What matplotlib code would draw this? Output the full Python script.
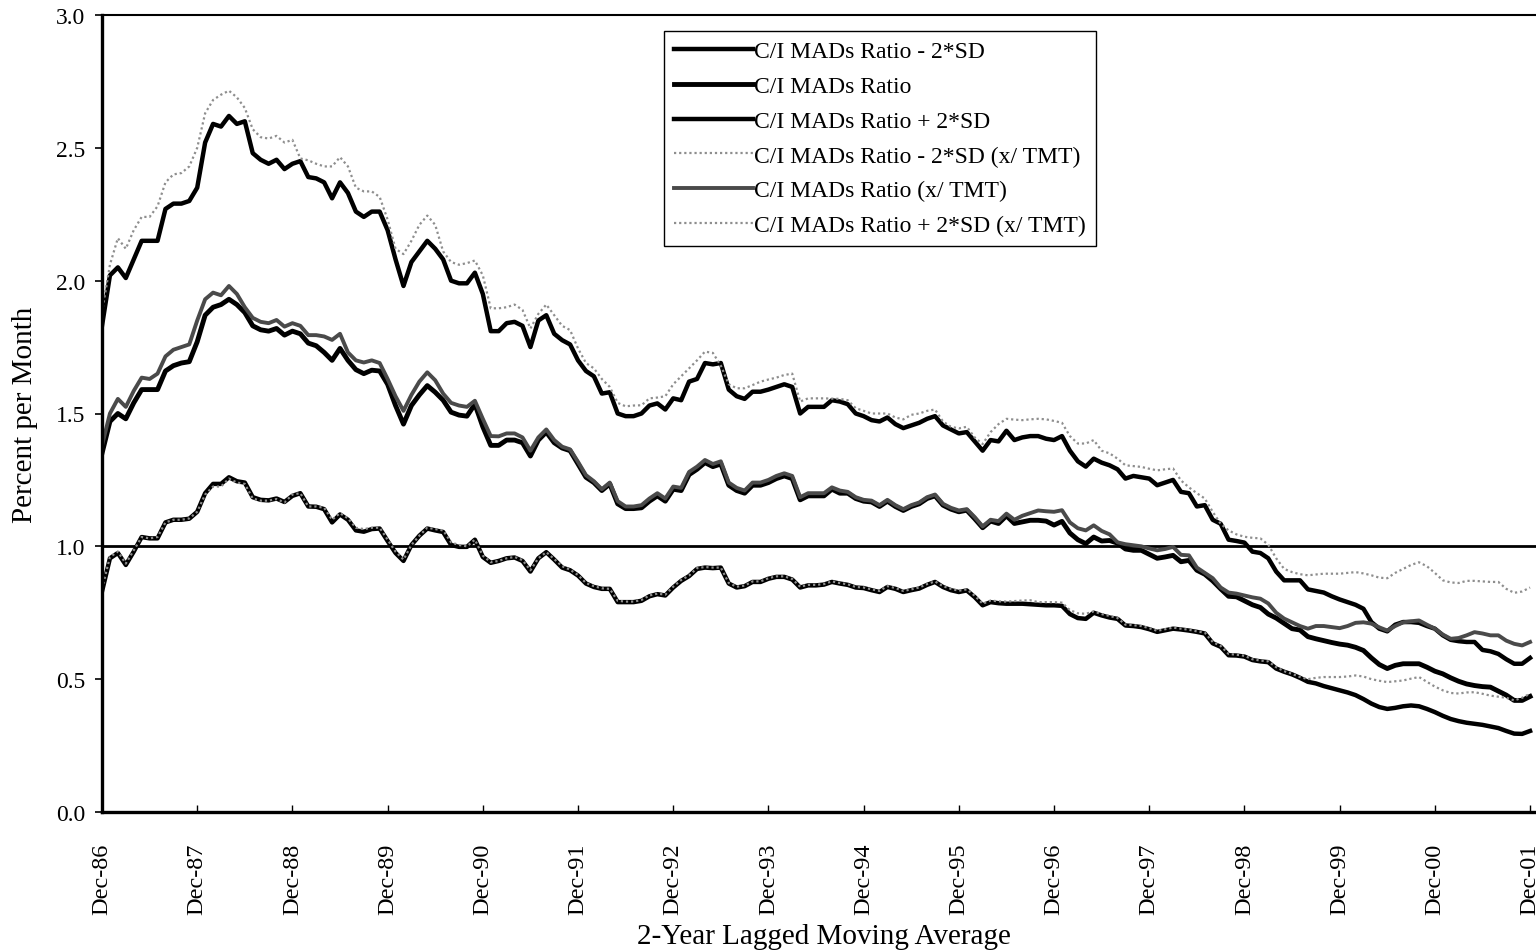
import matplotlib
matplotlib.use("Agg")
import matplotlib.pyplot as plt
import numpy as np

plt.rcParams['font.family'] = ['Liberation Serif', 'DejaVu Serif']

# month index 0 = Dec-86 ... 180 = Dec-01
tick_labels = ["Dec-86", "Dec-87", "Dec-88", "Dec-89", "Dec-90", "Dec-91", "Dec-92",
               "Dec-93", "Dec-94", "Dec-95", "Dec-96", "Dec-97", "Dec-98", "Dec-99",
               "Dec-00", "Dec-01"]

ratio_plus2sd = [
    1.83, 2.02, 2.05, 2.01, 2.08, 2.15, 2.15, 2.15, 2.27, 2.29, 2.29, 2.30,
    2.35, 2.52, 2.59, 2.58, 2.62, 2.59, 2.60, 2.48, 2.455, 2.44, 2.455, 2.42,
    2.44, 2.45, 2.39, 2.385, 2.37, 2.31, 2.37, 2.33, 2.26, 2.24, 2.26, 2.26,
    2.19, 2.08, 1.98, 2.07, 2.11, 2.15, 2.12, 2.08, 2.00, 1.99, 1.99, 2.03,
    1.95, 1.81, 1.81, 1.84, 1.845, 1.83, 1.75, 1.85, 1.87, 1.80, 1.776, 1.76,
    1.70, 1.66, 1.64, 1.575, 1.58, 1.50, 1.49, 1.49, 1.50, 1.53, 1.538, 1.515,
    1.557, 1.55, 1.62, 1.63, 1.69, 1.685, 1.69, 1.59, 1.565, 1.555, 1.582, 1.582,
    1.59, 1.60, 1.61, 1.60, 1.50, 1.525, 1.525, 1.525, 1.55, 1.545, 1.535, 1.50,
    1.49, 1.475, 1.47, 1.485, 1.46, 1.445, 1.455, 1.465, 1.48, 1.49, 1.455, 1.44,
    1.425, 1.43, 1.395, 1.36, 1.40, 1.395, 1.435, 1.40, 1.41, 1.415, 1.415, 1.405,
    1.40, 1.415, 1.36, 1.32, 1.30, 1.33, 1.315, 1.305, 1.29, 1.255, 1.265, 1.26,
    1.255, 1.23, 1.24, 1.25, 1.205, 1.20, 1.15, 1.155, 1.10, 1.085, 1.025, 1.02,
    1.014, 0.98, 0.975, 0.955, 0.905, 0.872, 0.872, 0.872, 0.838, 0.832, 0.826, 0.812,
    0.80, 0.79, 0.78, 0.765, 0.715, 0.69, 0.68, 0.705, 0.715, 0.715, 0.712, 0.70,
    0.69, 0.665, 0.648, 0.643, 0.64, 0.64, 0.61, 0.605, 0.595, 0.575, 0.558, 0.558,
    0.58]

ratio = [
    1.35, 1.47, 1.50, 1.48, 1.54, 1.59, 1.59, 1.59, 1.66, 1.68, 1.69, 1.695,
    1.77, 1.87, 1.90, 1.91, 1.93, 1.91, 1.88, 1.83, 1.815, 1.81, 1.82, 1.795,
    1.81, 1.80, 1.765, 1.755, 1.73, 1.70, 1.745, 1.70, 1.665, 1.65, 1.663, 1.66,
    1.61, 1.53, 1.46, 1.53, 1.57, 1.605, 1.58, 1.55, 1.505, 1.494, 1.49, 1.535,
    1.45, 1.38, 1.38, 1.40, 1.40, 1.39, 1.34, 1.40, 1.43, 1.39, 1.37, 1.36,
    1.31, 1.26, 1.24, 1.21, 1.235, 1.16, 1.142, 1.142, 1.145, 1.17, 1.19, 1.17,
    1.215, 1.21, 1.27, 1.29, 1.315, 1.30, 1.31, 1.23, 1.21, 1.20, 1.23, 1.23,
    1.24, 1.255, 1.265, 1.255, 1.175, 1.19, 1.19, 1.19, 1.215, 1.20, 1.20, 1.18,
    1.17, 1.167, 1.15, 1.17, 1.15, 1.135, 1.15, 1.16, 1.18, 1.19, 1.155, 1.14,
    1.13, 1.136, 1.104, 1.07, 1.095, 1.086, 1.115, 1.086, 1.092, 1.098, 1.098, 1.095,
    1.08, 1.094, 1.05, 1.025, 1.01, 1.035, 1.02, 1.022, 1.012, 0.99, 0.985, 0.985,
    0.97, 0.955, 0.96, 0.966, 0.942, 0.947, 0.91, 0.895, 0.87, 0.84, 0.812, 0.81,
    0.795, 0.78, 0.77, 0.745, 0.73, 0.71, 0.69, 0.685, 0.66, 0.652, 0.645, 0.638,
    0.632, 0.628, 0.62, 0.608, 0.58, 0.555, 0.54, 0.552, 0.558, 0.558, 0.558, 0.545,
    0.53, 0.52, 0.505, 0.492, 0.482, 0.476, 0.472, 0.47, 0.455, 0.44, 0.42, 0.42,
    0.435]

ratio_minus2sd = [
    0.83, 0.955, 0.975, 0.93, 0.98, 1.035, 1.03, 1.03, 1.09, 1.10, 1.10, 1.104,
    1.13, 1.20, 1.235, 1.235, 1.26, 1.245, 1.24, 1.185, 1.175, 1.173, 1.18, 1.167,
    1.19, 1.20, 1.15, 1.149, 1.14, 1.09, 1.12, 1.10, 1.06, 1.055, 1.065, 1.067,
    1.02, 0.975, 0.945, 1.005, 1.04, 1.067, 1.06, 1.054, 1.005, 0.998, 0.998, 1.025,
    0.96, 0.938, 0.945, 0.955, 0.958, 0.945, 0.905, 0.955, 0.978, 0.95, 0.92, 0.91,
    0.89, 0.86, 0.847, 0.84, 0.84, 0.79, 0.79, 0.79, 0.795, 0.812, 0.82, 0.815,
    0.845, 0.87, 0.888, 0.915, 0.92, 0.918, 0.92, 0.86, 0.845, 0.85, 0.866, 0.866,
    0.878, 0.885, 0.885, 0.875, 0.845, 0.853, 0.853, 0.856, 0.866, 0.86, 0.855, 0.845,
    0.843, 0.835, 0.828, 0.847, 0.84, 0.828, 0.835, 0.841, 0.855, 0.866, 0.847, 0.835,
    0.828, 0.834, 0.809, 0.778, 0.79, 0.786, 0.784, 0.784, 0.784, 0.782, 0.78, 0.778,
    0.778, 0.776, 0.745, 0.73, 0.727, 0.75, 0.74, 0.732, 0.727, 0.702, 0.70, 0.696,
    0.688, 0.678, 0.684, 0.69, 0.687, 0.683, 0.678, 0.672, 0.635, 0.622, 0.59, 0.589,
    0.585, 0.572, 0.567, 0.564, 0.54, 0.528, 0.518, 0.505, 0.49, 0.484, 0.474, 0.466,
    0.458, 0.45, 0.44, 0.425, 0.408, 0.395, 0.388, 0.392, 0.398, 0.401, 0.398, 0.388,
    0.376, 0.362, 0.35, 0.342, 0.336, 0.332, 0.328, 0.322, 0.316, 0.305, 0.295, 0.294,
    0.305]

tmt_plus2sd = [
    1.88, 2.06, 2.16, 2.12, 2.19, 2.24, 2.24, 2.28, 2.37, 2.40, 2.405, 2.43,
    2.50, 2.63, 2.68, 2.70, 2.715, 2.69, 2.65, 2.57, 2.54, 2.535, 2.545, 2.52,
    2.53, 2.46, 2.453, 2.44, 2.43, 2.43, 2.465, 2.43, 2.35, 2.336, 2.336, 2.315,
    2.23, 2.12, 2.10, 2.15, 2.21, 2.245, 2.21, 2.11, 2.07, 2.06, 2.066, 2.076,
    2.02, 1.896, 1.896, 1.90, 1.91, 1.89, 1.82, 1.875, 1.91, 1.87, 1.83, 1.814,
    1.745, 1.69, 1.67, 1.63, 1.60, 1.54, 1.527, 1.53, 1.531, 1.557, 1.56, 1.565,
    1.61, 1.64, 1.67, 1.70, 1.733, 1.728, 1.68, 1.61, 1.595, 1.595, 1.607, 1.62,
    1.628, 1.635, 1.645, 1.65, 1.545, 1.557, 1.557, 1.557, 1.556, 1.555, 1.55, 1.52,
    1.51, 1.50, 1.50, 1.50, 1.485, 1.478, 1.495, 1.50, 1.51, 1.515, 1.47, 1.45,
    1.444, 1.45, 1.41, 1.385, 1.43, 1.46, 1.48, 1.477, 1.475, 1.478, 1.48, 1.478,
    1.472, 1.465, 1.415, 1.387, 1.387, 1.40, 1.36, 1.35, 1.33, 1.305, 1.302, 1.299,
    1.292, 1.286, 1.29, 1.293, 1.248, 1.222, 1.20, 1.18, 1.13, 1.085, 1.06, 1.045,
    1.036, 1.032, 1.03, 1.006, 0.955, 0.915, 0.903, 0.895, 0.891, 0.894, 0.897, 0.897,
    0.897, 0.90, 0.903, 0.898, 0.891, 0.882, 0.88, 0.90, 0.915, 0.93, 0.94, 0.925,
    0.90, 0.872, 0.864, 0.862, 0.87, 0.87, 0.868, 0.866, 0.866, 0.84, 0.825, 0.83,
    0.845]

tmt_ratio = [
    1.38, 1.50, 1.555, 1.525, 1.585, 1.635, 1.63, 1.65, 1.715, 1.74, 1.75, 1.76,
    1.85, 1.93, 1.955, 1.945, 1.98, 1.95, 1.90, 1.86, 1.845, 1.84, 1.852, 1.827,
    1.84, 1.83, 1.795, 1.795, 1.79, 1.777, 1.80, 1.73, 1.70, 1.692, 1.70, 1.69,
    1.63, 1.565, 1.51, 1.57, 1.62, 1.655, 1.625, 1.575, 1.54, 1.53, 1.525, 1.548,
    1.48, 1.415, 1.414, 1.425, 1.425, 1.41, 1.36, 1.41, 1.44, 1.40, 1.375, 1.365,
    1.318, 1.268, 1.245, 1.215, 1.24, 1.17, 1.15, 1.15, 1.155, 1.18, 1.20, 1.18,
    1.225, 1.22, 1.28, 1.30, 1.325, 1.31, 1.32, 1.24, 1.22, 1.21, 1.24, 1.24,
    1.25, 1.265, 1.275, 1.265, 1.185, 1.20, 1.20, 1.20, 1.222, 1.21, 1.205, 1.185,
    1.175, 1.172, 1.155, 1.175, 1.155, 1.14, 1.155, 1.165, 1.185, 1.195, 1.16, 1.145,
    1.135, 1.14, 1.11, 1.075, 1.10, 1.095, 1.123, 1.10, 1.115, 1.125, 1.135, 1.132,
    1.13, 1.136, 1.09, 1.068, 1.06, 1.079, 1.058, 1.045, 1.015, 1.008, 1.004, 1.00,
    0.992, 0.985, 0.99, 0.998, 0.968, 0.966, 0.92, 0.90, 0.88, 0.845, 0.826, 0.822,
    0.815, 0.808, 0.803, 0.785, 0.75, 0.728, 0.714, 0.70, 0.69, 0.70, 0.70, 0.696,
    0.692, 0.70, 0.712, 0.714, 0.709, 0.695, 0.683, 0.70, 0.714, 0.718, 0.721, 0.705,
    0.69, 0.668, 0.652, 0.655, 0.665, 0.677, 0.672, 0.665, 0.665, 0.645, 0.633, 0.627,
    0.64]

tmt_minus2sd = [
    0.84, 0.96, 0.98, 0.935, 0.985, 1.035, 1.03, 1.035, 1.09, 1.10, 1.10, 1.105,
    1.13, 1.195, 1.225, 1.225, 1.255, 1.24, 1.235, 1.18, 1.172, 1.172, 1.178, 1.165,
    1.195, 1.20, 1.15, 1.15, 1.145, 1.10, 1.125, 1.105, 1.07, 1.065, 1.07, 1.07,
    1.025, 0.98, 0.95, 1.005, 1.04, 1.07, 1.065, 1.06, 1.015, 1.005, 1.0, 1.025,
    0.965, 0.94, 0.945, 0.955, 0.96, 0.948, 0.91, 0.955, 0.978, 0.952, 0.925, 0.912,
    0.892, 0.862, 0.85, 0.842, 0.84, 0.795, 0.792, 0.792, 0.798, 0.815, 0.822, 0.818,
    0.848, 0.873, 0.89, 0.918, 0.922, 0.92, 0.92, 0.862, 0.848, 0.852, 0.868, 0.868,
    0.88, 0.887, 0.887, 0.877, 0.848, 0.855, 0.855, 0.858, 0.868, 0.862, 0.857, 0.847,
    0.845, 0.838, 0.832, 0.85, 0.843, 0.832, 0.838, 0.845, 0.858, 0.868, 0.85, 0.84,
    0.833, 0.838, 0.814, 0.784, 0.796, 0.793, 0.792, 0.794, 0.796, 0.797, 0.79, 0.79,
    0.79, 0.788, 0.76, 0.748, 0.746, 0.755, 0.745, 0.738, 0.73, 0.705, 0.703, 0.70,
    0.692, 0.682, 0.688, 0.694, 0.69, 0.686, 0.68, 0.675, 0.64, 0.625, 0.595, 0.592,
    0.588, 0.575, 0.57, 0.567, 0.545, 0.53, 0.52, 0.508, 0.50, 0.505, 0.508, 0.508,
    0.508, 0.51, 0.514, 0.51, 0.50, 0.494, 0.489, 0.492, 0.495, 0.502, 0.508, 0.49,
    0.472, 0.458, 0.448, 0.446, 0.45, 0.451, 0.445, 0.438, 0.434, 0.43, 0.42, 0.43,
    0.445]

months = np.arange(len(ratio))

W, H = 1536, 953
fig = plt.figure(figsize=(W / 100, H / 100), dpi=100)
left_px, right_px, top_px, bottom_px = 102, 1538, 16, 813
ax = fig.add_axes([left_px / W, 1 - bottom_px / H,
                   (right_px - left_px) / W, (bottom_px - top_px) / H])

black = "#000000"
dark_gray = "#4a4a4a"
light_gray = "#8e8e8e"

ax.plot(months, ratio_minus2sd, color=black, lw=3.2, label="C/I MADs Ratio - 2*SD")
ax.plot(months, ratio, color=black, lw=3.5, label="C/I MADs Ratio")
ax.plot(months, ratio_plus2sd, color=black, lw=3.2, label="C/I MADs Ratio + 2*SD")
ax.plot(months, tmt_minus2sd, color=light_gray, lw=1.6, linestyle=(0, (1.0, 1.3)),
        label="C/I MADs Ratio - 2*SD (x/ TMT)")
ax.plot(months, tmt_ratio, color=dark_gray, lw=2.8, label="C/I MADs Ratio (x/ TMT)")
ax.plot(months, tmt_plus2sd, color=light_gray, lw=1.6, linestyle=(0, (1.0, 1.3)),
        label="C/I MADs Ratio + 2*SD (x/ TMT)")

ax.axhline(1.0, color=black, lw=2.0, zorder=1)

ax.set_xlim(0, 181)
ax.set_ylim(0, 3.0)
ax.set_yticks([0.0, 0.5, 1.0, 1.5, 2.0, 2.5, 3.0])
ax.set_yticklabels(["0.0", "0.5", "1.0", "1.5", "2.0", "2.5", "3.0"])
ax.set_xticks(np.arange(0, 181, 12))
ax.set_xticklabels(tick_labels, rotation=90)

ax.tick_params(axis='y', direction='out', length=5, width=1.2, pad=7, labelsize=17)
ax.tick_params(axis='x', direction='in', length=5, width=1.0, pad=22, labelsize=17.5)

for side in ("left", "bottom"):
    ax.spines[side].set_linewidth(2.4)
ax.spines["top"].set_linewidth(1.5)
ax.spines["right"].set_visible(False)

ax.set_ylabel("Percent per Month", fontsize=21)
ax.yaxis.label.set_va("center")
ax.yaxis.set_label_coords((25 - left_px) / (right_px - left_px), 0.5)
ax.set_xlabel("2-Year Lagged Moving Average", fontsize=21)
ax.xaxis.label.set_va("center")
ax.xaxis.set_label_coords((824 - left_px) / (right_px - left_px),
                          (bottom_px - 937) / (bottom_px - top_px))

leg = ax.legend(loc="upper left",
                bbox_to_anchor=((664 - left_px) / (right_px - left_px),
                                (bottom_px - 32) / (bottom_px - top_px)),
                fontsize=17, frameon=True, fancybox=False, framealpha=1,
                edgecolor=black, borderpad=0.42, handlelength=3.35,
                handletextpad=0.05, labelspacing=0.56, borderaxespad=0)
leg.get_frame().set_linewidth(1.0)

fig.savefig("out.png", dpi=100)
